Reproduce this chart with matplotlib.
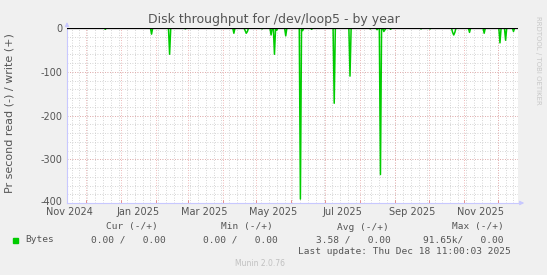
import matplotlib
matplotlib.use('Agg')
import matplotlib.pyplot as plt
import matplotlib.dates as mdates
import matplotlib.transforms as mtrans
import pandas as pd
import numpy as np

# read spikes (negative = read), everything else sits on 0
spike_dates = ['2024-12-18', '2025-01-28', '2025-02-13', '2025-02-27', '2025-04-11',
               '2025-04-21', '2025-04-22', '2025-04-23', '2025-05-06', '2025-05-14',
               '2025-05-17', '2025-05-19', '2025-05-27', '2025-06-09', '2025-06-11',
               '2025-06-19', '2025-07-09', '2025-07-23', '2025-08-10', '2025-08-16',
               '2025-08-19', '2025-08-22', '2025-08-23', '2025-08-28', '2025-09-24',
               '2025-10-02', '2025-10-22', '2025-10-23', '2025-10-24', '2025-11-06',
               '2025-11-19', '2025-12-03', '2025-12-08', '2025-12-15']
spike_vals = [-3, -14, -60, -2, -12,
              -6, -12, -8, -2, -16,
              -60, -5, -18, -391, -6,
              -3, -172, -110, -2, -4,
              -335, -8, -4, -3, -2,
              -2, -10, -16, -10, -10,
              -12, -34, -28, -8]

start = '2024-11-14'
end = '2025-12-19'
month_labels = ['Nov 2024', 'Jan 2025', 'Mar 2025', 'May 2025', 'Jul 2025', 'Sep 2025', 'Nov 2025']
label_dates = ['2024-11-16', '2025-01-16', '2025-03-16', '2025-05-16', '2025-07-16', '2025-09-16', '2025-11-16']
y_ticks = [0, -100, -200, -300, -400]

days = pd.date_range(start, end, freq='D')
read = pd.Series(0.0, index=days)
read[pd.to_datetime(spike_dates)] = spike_vals

bg = '#F0F0F0'
txt = '#555555'
fig = plt.figure(figsize=(5.47, 2.75), dpi=100, facecolor=bg)
ax = fig.add_axes([67/547, 1 - 203/275, 451/547, 175/275])
ax.set_facecolor('white')

# grid: minor weekly / every 20, major monthly / every 100
for d in pd.date_range(start, end, freq='W-MON'):
    ax.axvline(d, color='#C8C8C8', lw=0.6, ls=(0, (1, 2)), zorder=1)
for v in range(-380, 0, 20):
    ax.axhline(v, color='#C8C8C8', lw=0.6, ls=(0, (1, 2)), zorder=1)
for d in pd.date_range(start, end, freq='MS'):
    ax.axvline(d, color='#E8A0A0', lw=0.6, ls=(0, (1, 2)), zorder=1.5)
for v in y_ticks[1:]:
    ax.axhline(v, color='#E8A0A0', lw=0.6, ls=(0, (1, 2)), zorder=1.5)

ax.plot(read.index, read.values, color='#00CC00', lw=1.1, zorder=3)
ax.axhline(0, color='black', lw=0.9, zorder=4)

ax.set_xlim(pd.Timestamp(start), pd.Timestamp(end))
ax.set_ylim(-400, 0)

for s in ['top', 'right']:
    ax.spines[s].set_visible(False)
for s in ['left', 'bottom']:
    ax.spines[s].set_color('#C8C8FF')
    ax.spines[s].set_linewidth(0.8)
ax.annotate('', xy=(1.02, 0), xytext=(1.0, 0), xycoords='axes fraction',
            arrowprops=dict(arrowstyle='-|>', color='#C8C8FF', lw=0.8, mutation_scale=6))
ax.annotate('', xy=(0, 1.05), xytext=(0, 1.0), xycoords='axes fraction',
            arrowprops=dict(arrowstyle='-|>', color='#C8C8FF', lw=0.8, mutation_scale=6))

ax.set_yticks(y_ticks)
ax.set_yticklabels([str(v) for v in y_ticks])
ax.xaxis.set_major_locator(mdates.MonthLocator())
ax.xaxis.set_major_formatter(plt.NullFormatter())
ax.tick_params(axis='x', length=2, color='#E08080', width=0.6, direction='in')
ax.tick_params(axis='y', length=0, labelsize=7, labelcolor=txt, pad=3)
# nudge the bottom tick label up a little so it clears the date labels
bottom_lab = ax.get_yticklabels()[-1]
bottom_lab.set_transform(bottom_lab.get_transform() + mtrans.ScaledTranslation(0, 2/100, fig.dpi_scale_trans))
for lab, d in zip(month_labels, label_dates):
    ax.text(pd.Timestamp(d), -409, lab, ha='center', va='top', fontsize=7, color=txt)

fig.text(0.5, 1 - 19/275, 'Disk throughput for /dev/loop5 - by year', ha='center', va='center',
         fontsize=9, color=txt)
fig.text(10/547, 1 - 113/275, 'Pr second read (-) / write (+)', rotation=90, ha='center', va='center',
         fontsize=8, color=txt)
fig.text(538/547, 1 - 60/275, 'RRDTOOL / TOBI OETIKER', rotation=270, ha='center', va='center',
         fontsize=5, color='#C8C8C8')

mono = dict(family='DejaVu Sans Mono', fontsize=6.8, color=txt, va='center')
fig.text(106/547, 1 - 227/275, 'Cur (-/+)', ha='left', **mono)
fig.text(221/547, 1 - 227/275, 'Min (-/+)', ha='left', **mono)
fig.text(337/547, 1 - 227/275, 'Avg (-/+)', ha='left', **mono)
fig.text(452/547, 1 - 227/275, 'Max (-/+)', ha='left', **mono)
fig.patches.append(plt.Rectangle((13/547, 1 - 243/275), 5/547, 5/275, color='#00CC00',
                                 transform=fig.transFigure, figure=fig))
fig.text(25/547, 1 - 240/275, 'Bytes', ha='left', **mono)
fig.text(91/547, 1 - 240/275, '0.00 /   0.00', ha='left', **mono)
fig.text(203/547, 1 - 240/275, '0.00 /   0.00', ha='left', **mono)
fig.text(316/547, 1 - 240/275, '3.58 /   0.00', ha='left', **mono)
fig.text(423/547, 1 - 240/275, '91.65k/   0.00', ha='left', **mono)
fig.text(298/547, 1 - 252/275, 'Last update: Thu Dec 18 11:00:03 2025', ha='left', **mono)
fig.text(260/547, 1 - 264/275, 'Munin 2.0.76', ha='center', va='center', fontsize=5.5, color='#C0C0C0')

fig.savefig('out.png', dpi=100, facecolor=bg)
